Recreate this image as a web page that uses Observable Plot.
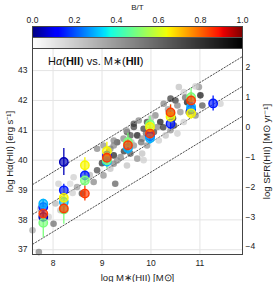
<!DOCTYPE html>
<html><head><meta charset="utf-8">
<script src="https://cdn.jsdelivr.net/npm/d3@7"></script>
<script src="https://cdn.jsdelivr.net/npm/@observablehq/plot@0.6"></script>
<style>
body{margin:0;background:#fff;font-family:"Liberation Sans",Arial,sans-serif;}
#wrap{position:relative;width:275px;height:282px;overflow:hidden;}
#wrap svg{display:block;}
#title{position:absolute;left:48px;top:55px;font-size:11px;line-height:12px;white-space:nowrap;color:#111;}
#main g[aria-label$="axis label"]{font-size:9.5px;}
#cb g[aria-label$="axis label"]{font-size:8px;}
</style></head><body>
<div id="wrap"><div id="cb"></div><div id="main"></div><div id="title">H<i>α</i>(<b>HII</b>) vs. M∗(<b>HII</b>)</div></div>
<script>
// ---- data ----
const xTicks = [8, 9, 10, 11];
const yTicks = [37, 38, 39, 40, 41, 42, 43];
const sfrTicks = [-4, -3, -2, -1, 0, 1, 2];
const cbTicks = [0, 0.2, 0.4, 0.6, 0.8, 1.0];
const sfrOffset = 41.1;            // log SFR = log L(Halpha) - 41.1
const lineOffsets = [31.6, 30.6, 29.6]; // log Ha = log M* + c

const grayX = [7.58,7.71,7.74,8.01,7.91,8.11,8.35,8.42,8.15,8.49,8.59,8.83,8.9,9.03,9.17,9.27,9.24,9.38,9.51,9.58,9.72,9.24,9.65,9.75,9.58,9.44,9.31,9.24,9.72,9.65,9.17,9.03,9.92,10.09,10.19,10.06,9.85,9.82,10.16,10.3,10.4,10.26,10.5,10.54,10.6,10.57,10.67,10.98,11.01,11.05,10.74,10.77,10.91,10.67,10.47,10.4,10.54,11.42,9.92,10.13,10.91,9.82,9.85,8.9,9.24,9.51,9.65,9.31,9.45,9.8,10.0,10.25,10.35,9.9,9.6,10.7,8.75,9.0,8.4,8.05,9.5,10.45];
const grayY = [37.65,36.92,38.37,37.87,38.1,39.21,39.21,39.43,38.32,39.1,38.88,39.27,39.66,39.49,39.71,39.21,39.88,40.1,39.82,40.22,40.05,40.16,41.22,41.33,40.83,40.72,40.6,40.49,40.83,40.49,40.38,40.49,41.28,41.5,41.28,40.94,41.05,40.72,40.66,40.83,42.06,41.89,42.0,41.83,41.61,42.45,42.28,42.45,42.17,41.83,41.94,41.61,41.5,41.28,41.16,41.0,40.89,41.89,40.49,41.11,42.47,40.22,40.0,40.38,40.66,40.94,41.11,39.99,40.3,40.6,41.4,41.1,41.7,40.9,40.6,42.1,39.5,39.9,38.9,38.55,41.0,41.4];
const grayBT = [.35,.5,.25,.6,.2,.2,.15,.2,.25,.4,.75,.5,.75,.45,.25,.65,.5,.5,.25,.7,.45,.9,.75,.5,.75,.5,.75,.5,.95,.45,.5,.45,.8,.5,.95,.75,.8,.45,.2,.25,.8,.5,.8,.5,.45,.25,.2,.45,.95,.7,.95,.75,.5,.2,.75,.45,.2,.2,.45,.5,.2,.25,.2,.5,.5,.75,.8,.45,.85,.6,.3,.85,.4,.6,.3,.6,.3,.85,.2,.3,.4,.9];

const colX   = [7.80,7.80,7.80,7.80,7.80, 8.22,8.22,8.22,8.22,8.22,8.22, 8.65,8.65,8.65,8.65, 9.10,9.10,9.10,9.10,9.10, 9.53,9.53,9.53, 9.98,9.98,9.98,9.98,9.98, 10.40,10.40,10.40,10.40, 10.82,10.82,10.82,10.82,10.82, 11.27];
const colY   = [38.54,38.43,38.21,38.10,37.90, 39.94,38.99,38.74,38.60,38.38,38.35, 39.83,39.49,39.32,38.88, 40.30,40.15,40.08,39.95,40.00, 40.60,40.40,40.50, 41.20,41.11,40.80,40.73,40.89, 41.55,41.60,41.45,41.22, 42.11,42.00,41.78,41.70,41.57, 41.90];
const colBT  = [.30,.15,.85,.05,.50, .05,.15,.65,.30,.85,.50, .65,.15,.50,.85, .65,.15,.85,.30,.50, .50,.30,.85, .50,.65,.15,.30,.85, .50,.85,.65,.15, .50,.85,.30,.15,.65, .15];
const colErr = [.15,.20,.20,.20,.50, .45,.20,.30,.20,.20,.50, .25,.20,.20,.25, .30,.20,.25,.20,.30, .30,.20,.20, .25,.20,.20,.20,.20, .30,.25,.20,.20, .30,.25,.20,.20,.20, .25];

// ---- colour maps ----
function chan(t, pts){ for(let i=1;i<pts.length;i++){ if(t<=pts[i][0]){const [a,va]=pts[i-1],[b,vb]=pts[i];return va+(vb-va)*(t-a)/(b-a);} } return pts[pts.length-1][1]; }
function jet(t){
  t=Math.max(0,Math.min(1,t));
  const r=chan(t,[[0,0],[0.35,0],[0.66,1],[0.89,1],[1,0.5]]);
  const g=chan(t,[[0,0],[0.125,0],[0.375,1],[0.64,1],[0.91,0],[1,0]]);
  const b=chan(t,[[0,0.5],[0.11,1],[0.34,1],[0.65,0],[1,0]]);
  return d3.rgb(r*255,g*255,b*255).formatHex();
}
const grayMap = t => d3.interpolateRgb("#ffffff","#000000")(t);

const font = '"Liberation Sans", Arial, sans-serif';

// ---- colourbar ----
const step = 1/210;
const cbCells = d3.range(0, 1, step);
const cb = Plot.plot({
  width: 275, height: 48, marginLeft: 32, marginRight: 33, marginTop: 26, marginBottom: 0,
  style: {fontFamily: font, fontSize: "8.5px", color: "#222", background: "white"},
  x: {domain: [0, 1]},
  y: {domain: [0, 2], axis: null},
  color: {type: "identity"},
  marks: [
    Plot.rect(cbCells, {x1: d => d, x2: d => d + step * 1.6, y1: 1, y2: 2, fill: d => jet(d + step / 2)}),
    Plot.rect(cbCells, {x1: d => d, x2: d => d + step * 1.6, y1: 0, y2: 1, fill: d => grayMap(d + step / 2)}),
    Plot.ruleY([1], {stroke: "#555", strokeWidth: 1}),
    Plot.frame({stroke: "#444", strokeWidth: 1}),
    Plot.axisX({anchor: "top", ticks: cbTicks, tickFormat: d => d.toFixed(1), tickSize: 0, tickPadding: 4,
      label: "B/T", labelAnchor: "center", labelArrow: "none", labelOffset: 22})
  ]
});
document.getElementById("cb").appendChild(cb);

// ---- main chart ----
const gray = grayX.map((x, i) => ({x, y: grayY[i], bt: grayBT[i]}));
const col = colX.map((x, i) => ({x, y: colY[i], bt: colBT[i], err: colErr[i]})).sort((a, b) => a.bt - b.bt);
const xDom = [7.58, 11.87];
const fmtInt = d => { const v = Math.round(d); return v < 0 ? "\u2212" + (-v) : String(v); };
const fmtSfr = d => fmtInt(d - sfrOffset);

const main = Plot.plot({
  width: 275, height: 234, marginTop: 0, marginLeft: 32, marginRight: 33, marginBottom: 28,
  style: {fontFamily: font, fontSize: "8.5px", color: "#222", background: "white"},
  x: {domain: xDom},
  y: {domain: [36.84, 43.74]},
  color: {type: "identity"},
  marks: [
    Plot.gridX(xTicks, {stroke: "#e4e4e4", strokeOpacity: 1}),
    Plot.gridY(yTicks, {stroke: "#e4e4e4", strokeOpacity: 1}),
    Plot.link(lineOffsets, {x1: () => xDom[0], x2: () => xDom[1], y1: c => xDom[0] + c, y2: c => xDom[1] + c,
      stroke: "#222", strokeWidth: 0.8, strokeDasharray: "2.2,1", clip: true}),
    Plot.dot(gray, {x: "x", y: "y", r: 3.3, fill: d => grayMap(d.bt), fillOpacity: 0.7, stroke: "none"}),
    Plot.ruleX(col, {x: "x", y1: d => d.y - d.err, y2: d => d.y + d.err, stroke: d => jet(d.bt), strokeWidth: 1.3}),
    Plot.dot(col, {x: "x", y: "y", r: 4.2, fill: d => jet(d.bt), fillOpacity: 0.65, stroke: d => jet(d.bt), strokeWidth: 1.4}),
    Plot.frame({stroke: "#444", strokeWidth: 1}),
    Plot.axisX({ticks: xTicks, tickFormat: fmtInt, tickSize: 0, tickPadding: 5, label: "log M\u2217(HII) [M\u2299]", labelAnchor: "center", labelArrow: "none", labelOffset: 26}),
    Plot.axisY({anchor: "left", ticks: yTicks, tickFormat: fmtInt, tickSize: 0, tickPadding: 5, label: "log H\u03b1(HII) [erg s\u207b\u00b9]", labelAnchor: "center", labelArrow: "none", labelOffset: 26}),
    Plot.axisY({anchor: "right", ticks: sfrTicks.map(s => s + sfrOffset), tickFormat: fmtSfr, tickSize: 0, tickPadding: 3,
      label: "log SFR(HII) [M\u2299 yr\u207b\u00b9]", labelAnchor: "center", labelArrow: "none", labelOffset: 27})
  ]
});
document.getElementById("main").appendChild(main);
</script>
</body></html>
